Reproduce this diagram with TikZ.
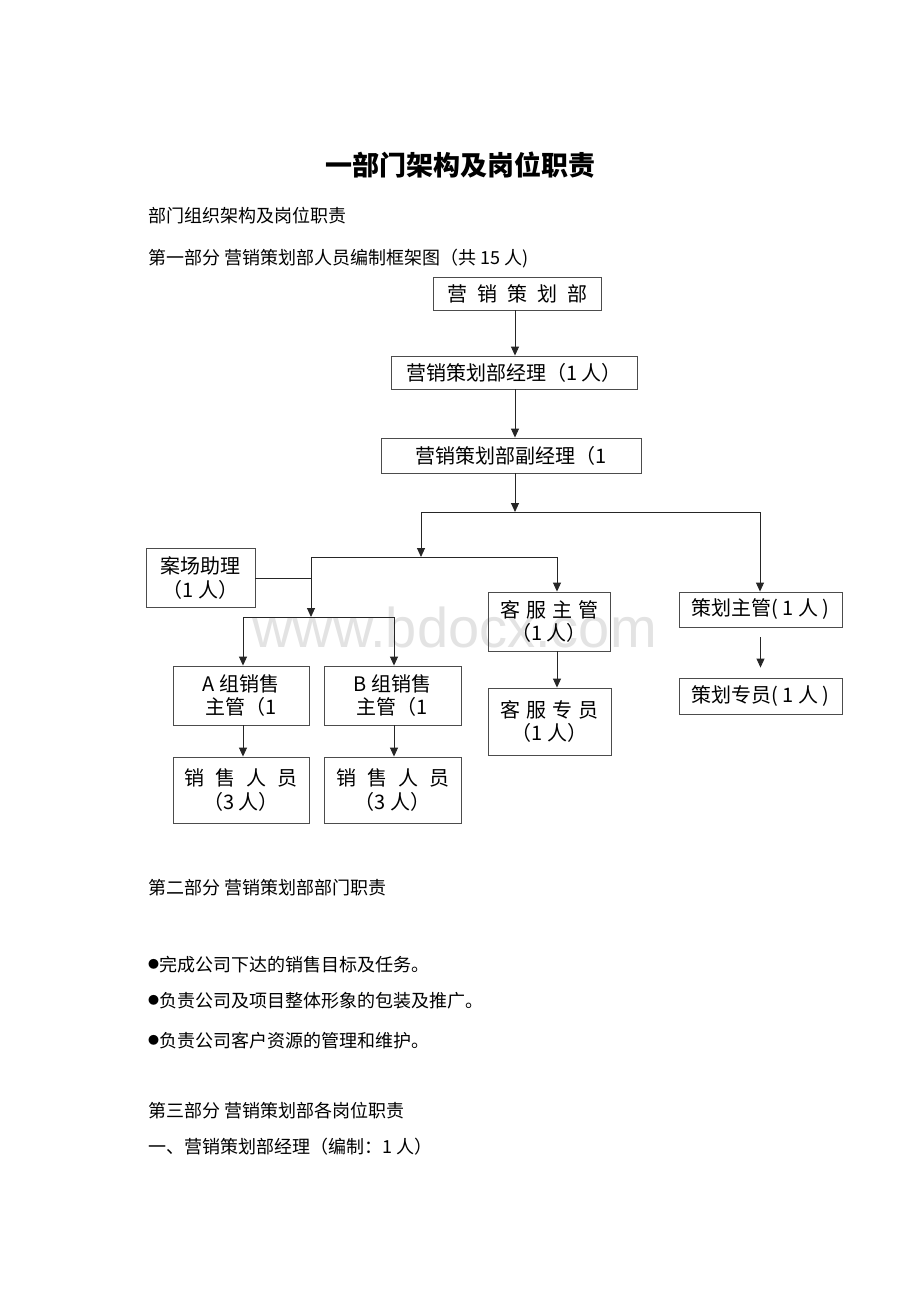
\documentclass[tikz,border=0pt]{standalone}
\usepackage{fontspec}
\newfontfamily\cjk{Noto Sans CJK SC}
\newfontfamily\wmfont{Liberation Sans}
\usetikzlibrary{arrows.meta}

\newcommand\dutymark{\raisebox{2.5pt}{\fontsize{11}{11}\selectfont ●}}

\begin{document}
\begin{tikzpicture}[
        x=1pt, y=-1pt,
        box/.style={draw=black!70, line width=0.9pt, inner sep=0pt, align=center, font=\cjk\fontsize{20}{23.5}\selectfont},
        line/.style={draw=black!85, line width=0.9pt},
        arrow/.style={line, -{Triangle[width=8pt,length=9pt]}},
        txt/.style={anchor=base west, inner sep=0pt, font=\cjk\fontsize{18}{20}\selectfont}
    ]
    \useasboundingbox[fill=white] (0,0) rectangle (920,1302);

    % 水印
    \node[anchor=base west, inner sep=0pt, text=black!11, font=\wmfont\fontsize{56}{56}\selectfont] (mark) at (252,647) {www.bdocx.com};

    % 标题与说明
    \node[anchor=base, inner sep=0pt, font=\cjk\bfseries\fontsize{27}{30}\selectfont] (title) at (460,175) {一部门架构及岗位职责};
    \node[txt] (sub) at (148,222) {部门组织架构及岗位职责};
    \node[txt] (part1) at (148,264) {第一部分 营销策划部人员编制框架图（共 15 人)};

    % 上层
    \node[box, minimum width=168, minimum height=33] (dept) at (517,293.5) {营\hspace{10pt}销\hspace{10pt}策\hspace{10pt}划\hspace{10pt}部};
    \node[box, minimum width=246, minimum height=33] (mgr) at (514,372.5) {营销策划部经理（1 人）};
    \node[box, minimum width=260, minimum height=35] (vice) at (511,455.5) {营销策划部副经理（1};

    % 销售分支
    \node[box, minimum width=109, minimum height=59] (assist) at (200.5,578) {案场助理\\（1 人）};
    \node[box, minimum width=136, minimum height=59] (supA) at (241,695.5) {A 组销售\\主管（1};
    \node[box, minimum width=137, minimum height=59] (supB) at (392.5,695.5) {B 组销售\\主管（1};
    \node[box, minimum width=136, minimum height=66] (salesA) at (241,790) {销\hspace{11pt}售\hspace{11pt}人\hspace{11pt}员\\（3 人）};
    \node[box, minimum width=137, minimum height=66] (salesB) at (392.5,790) {销\hspace{11pt}售\hspace{11pt}人\hspace{11pt}员\\（3 人）};

    % 客服分支
    \node[box, minimum width=122, minimum height=59] (cs) at (549,621.5) {客\hspace{6pt}服\hspace{6pt}主\hspace{6pt}管\\（1 人）};
    \node[box, minimum width=123, minimum height=67] (csstaff) at (549.5,721.5) {客\hspace{6pt}服\hspace{6pt}专\hspace{6pt}员\\（1 人）};

    % 策划分支
    \node[box, minimum width=163, minimum height=35] (plan) at (760.5,609.5) {策划主管( 1 人 )};
    \node[box, minimum width=163, minimum height=36] (planstaff) at (760.5,696) {策划专员( 1 人 )};

    % 连接点
    \coordinate (top) at (515,512);
    \coordinate (busL) at (421,512);
    \coordinate (busR) at (760,512);
    \coordinate (midL) at (311,557);
    \coordinate (midR) at (557,557);
    \coordinate (lowL) at (243,617);
    \coordinate (lowR) at (394,617);

    % 连接箭头
    \draw[arrow] (dept.south -| top) -- (mgr.north -| top);
    \draw[arrow] (mgr.south -| top) -- (vice.north -| top);
    \draw[arrow] (vice.south -| top) -- (top);
    \draw[line] (busL) -- (busR);
    \draw[arrow] (busR) -- (busR |- plan.north);
    \draw[arrow, shorten <=10pt, shorten >=10pt] (plan) -- (planstaff);
    \draw[arrow] (busL) -- (busL |- midL);
    \draw[line] (midL) -- (midR);
    \draw[arrow] (midR) -- (midR |- cs.north);
    \draw[arrow] (cs.south -| midR) -- (csstaff.north -| midR);
    \draw[line] (assist.east) -- (assist.east -| midL);
    \draw[arrow] (midL) -- (midL |- lowL);
    \draw[line] (lowL) -- (lowR);
    \draw[arrow] (lowL) -- (lowL |- supA.north);
    \draw[arrow] (lowR) -- (lowR |- supB.north);
    \draw[arrow] (supA.south -| lowL) -- (salesA.north -| lowL);
    \draw[arrow] (supB.south -| lowR) -- (salesB.north -| lowR);

    % 正文
    \node[txt] (part2) at (148,894) {第二部分 营销策划部部门职责};
    \node[txt] (duty1) at (148,971) {\dutymark 完成公司下达的销售目标及任务。};
    \node[txt] (duty2) at (148,1007) {\dutymark 负责公司及项目整体形象的包装及推广。};
    \node[txt] (duty3) at (148,1047) {\dutymark 负责公司客户资源的管理和维护。};
    \node[txt] (part3) at (148,1117) {第三部分 营销策划部各岗位职责};
    \node[txt] (item1) at (148,1153) {一、营销策划部经理（编制：1 人）};

\end{tikzpicture}
\end{document}
